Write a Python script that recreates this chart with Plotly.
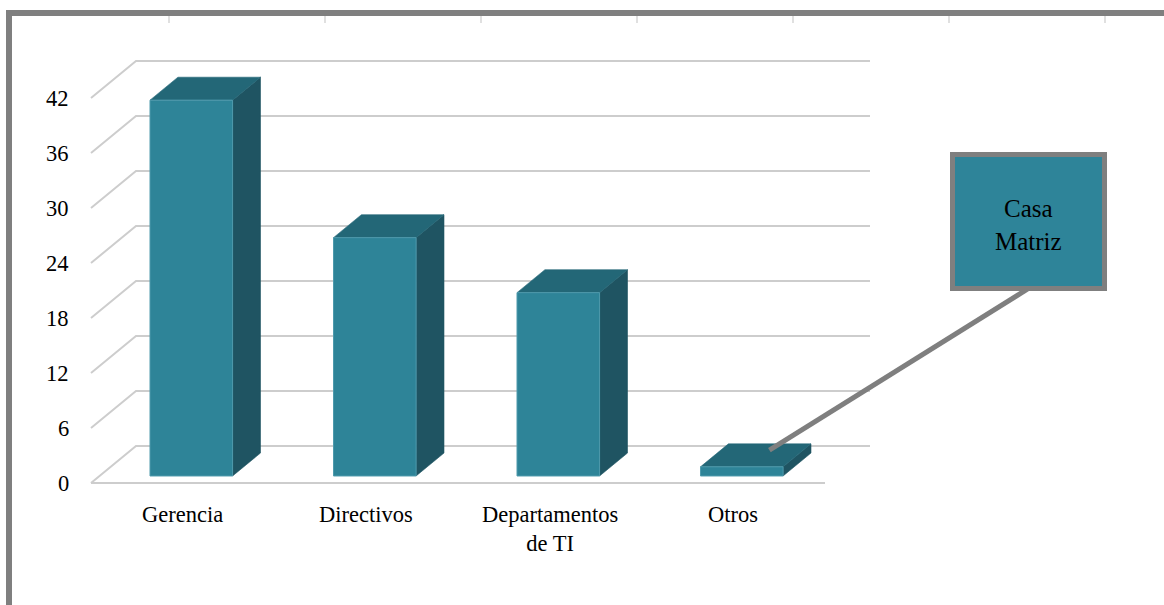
import plotly.graph_objects as go

# ---- data ----
categories = ["Gerencia", "Directivos", "Departamentos<br>de TI", "Otros"]
values = [41, 26, 20, 1]
y_ticks = [0, 6, 12, 18, 24, 30, 36, 42]
callout_text = "Casa<br>Matriz"
callout_category = "Otros"

# ---- layout geometry (pixels) ----
W, H = 1164, 605
X0_PX = 91.0       # left end of the front floor edge
CAT_PX = 183.5     # width of one category slot
Y0_PX = 483.0      # value 0 on the front plane
UNIT_PX = 385.0 / 42.0

# oblique projection of the depth axis, in data units
DEPTH_X = 45.0 / CAT_PX
DEPTH_Y = 37.0 / UNIT_PX
Z_FRONT, Z_BACK = 0.19, 0.81   # depth span occupied by the bars
BAR_W = 0.45

FRONT_COL = "#2E8498"
TOP_COL = "#236777"
SIDE_COL = "#1F5462"
GRID_COL = "#CDCDCD"
FRAME_COL = "#7F7F7F"
FONT = "Liberation Serif, Times New Roman, serif"

x_range = [-X0_PX / CAT_PX, (W - X0_PX) / CAT_PX]
y_range = [(Y0_PX - H) / UNIT_PX, Y0_PX / UNIT_PX]


def proj(x, y, z):
    """Project a point with depth z (0 = front, 1 = back) onto the 2D axes."""
    return x + z * DEPTH_X, y + z * DEPTH_Y


def px_to_data(px, py):
    return (px - X0_PX) / CAT_PX, (Y0_PX - py) / UNIT_PX


def poly(points, color, line_color=None, line_width=0.6):
    xs = [p[0] for p in points] + [points[0][0]]
    ys = [p[1] for p in points] + [points[0][1]]
    return go.Scatter(
        x=xs, y=ys, mode="lines", fill="toself", fillcolor=color,
        line=dict(color=line_color or color, width=line_width),
        hoverinfo="skip", showlegend=False,
    )


fig = go.Figure()

# ---- gridlines: side wall diagonal + back wall line for every tick ----
n_cat = len(categories)
gx, gy = [], []
for t in y_ticks:
    fx, fy = proj(0, t, 0)
    bx, by = proj(0, t, 1)
    ex, ey = proj(n_cat, t, 1)
    gx += [fx, bx, ex, None]
    gy += [fy, by, ey, None]
# front edge of the floor
gx += [0, n_cat, None]
gy += [0, 0, None]
fig.add_trace(go.Scatter(x=gx, y=gy, mode="lines",
                         line=dict(color=GRID_COL, width=2),
                         hoverinfo="skip", showlegend=False))

# ---- 3D bars ----
for i, v in enumerate(values):
    c = i + 0.5
    xl, xr = c - BAR_W / 2, c + BAR_W / 2
    side = [proj(xr, 0, Z_FRONT), proj(xr, v, Z_FRONT),
            proj(xr, v, Z_BACK), proj(xr, 0, Z_BACK)]
    top = [proj(xl, v, Z_FRONT), proj(xr, v, Z_FRONT),
           proj(xr, v, Z_BACK), proj(xl, v, Z_BACK)]
    front = [proj(xl, 0, Z_FRONT), proj(xr, 0, Z_FRONT),
             proj(xr, v, Z_FRONT), proj(xl, v, Z_FRONT)]
    fig.add_trace(poly(side, SIDE_COL))
    fig.add_trace(poly(top, TOP_COL))
    fig.add_trace(poly(front, FRONT_COL, line_color="#4E9AAC", line_width=1))

# ---- y tick labels ----
annotations = []
for t in y_ticks:
    annotations.append(dict(
        x=-20.0 / CAT_PX, y=t, xref="x", yref="y", text=str(t),
        showarrow=False, xanchor="right", yanchor="middle",
        font=dict(family=FONT, size=22.5, color="#000000"),
    ))

# ---- category labels ----
for i, cat in enumerate(categories):
    annotations.append(dict(
        x=i + 0.5, y=-17.0 / UNIT_PX, xref="x", yref="y", text=cat,
        showarrow=False, xanchor="center", yanchor="top", align="center",
        font=dict(family=FONT, size=22.5, color="#000000"),
    ))

# ---- callout box ----
box_l, box_t, box_r, box_b = 952.5, 154.5, 1104.5, 288.5
k = categories.index(callout_category)
tip = proj(k + 0.5 + 0.04, values[k], 0.64)
anchor = px_to_data((box_l + box_r) / 2, box_b)
fig.add_trace(go.Scatter(x=[tip[0], anchor[0]], y=[tip[1], anchor[1]],
                         mode="lines", line=dict(color=FRAME_COL, width=5),
                         hoverinfo="skip", showlegend=False))

shapes = [
    dict(type="rect", xref="paper", yref="paper",
         x0=box_l / W, x1=box_r / W, y0=1 - box_b / H, y1=1 - box_t / H,
         fillcolor="#2E8499", line=dict(color=FRAME_COL, width=5), layer="above"),
    # outer frame (top and left edges)
    dict(type="line", xref="paper", yref="paper",
         x0=6 / W, x1=1.0, y0=1 - 13 / H, y1=1 - 13 / H,
         line=dict(color=FRAME_COL, width=6)),
    dict(type="line", xref="paper", yref="paper",
         x0=9 / W, x1=9 / W, y0=1 - 10 / H, y1=0,
         line=dict(color=FRAME_COL, width=6)),
]
for j in range(7):
    xp = (169 + 156 * j) / W
    shapes.append(dict(type="line", xref="paper", yref="paper",
                       x0=xp, x1=xp, y0=1 - 16 / H, y1=1 - 23 / H,
                       line=dict(color="#D6D6D6", width=1.5)))

annotations.append(dict(
    x=((box_l + box_r) / 2) / W, y=1 - ((box_t + box_b) / 2 + 3) / H,
    xref="paper", yref="paper", text=callout_text, showarrow=False,
    xanchor="center", yanchor="middle", align="center",
    font=dict(family=FONT, size=25, color="#000000"),
))

fig.update_layout(
    width=W, height=H,
    margin=dict(l=0, r=0, t=0, b=0),
    paper_bgcolor="white", plot_bgcolor="white",
    showlegend=False,
    xaxis=dict(range=x_range, visible=False, fixedrange=True),
    yaxis=dict(range=y_range, visible=False, fixedrange=True),
    shapes=shapes,
    annotations=annotations,
)

fig.write_html("out.html", config={"displayModeBar": False})
